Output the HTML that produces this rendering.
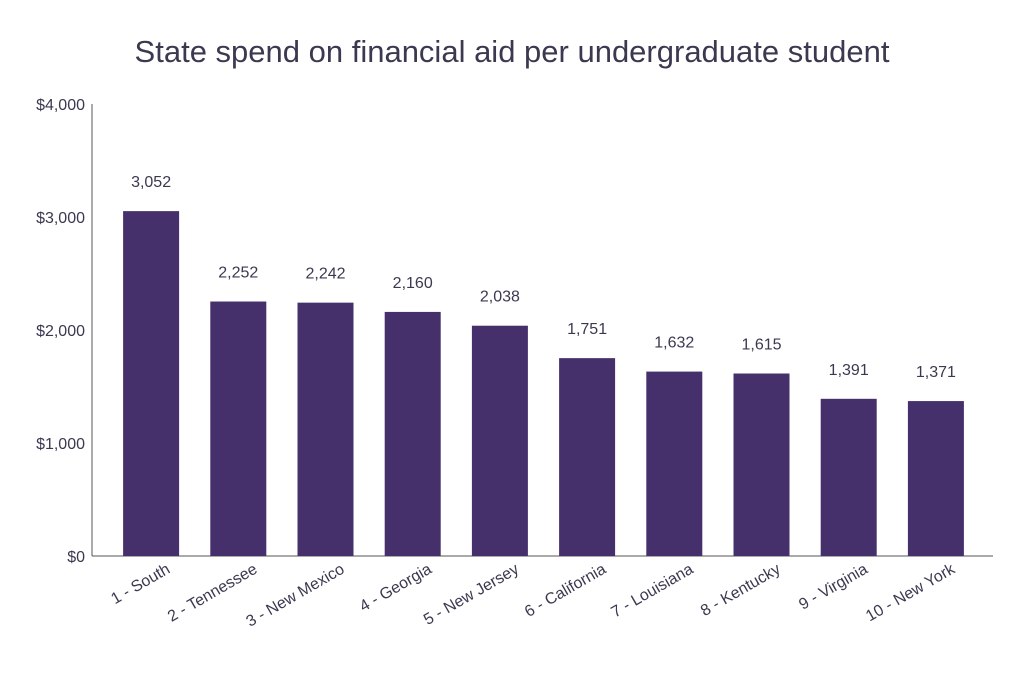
<!DOCTYPE html>
<html><head><meta charset="utf-8"><style>
body{margin:0;background:#fff;}
svg{display:block;font-family:"Liberation Sans",sans-serif;}
</style></head><body>
<svg id="chart" width="1024" height="683" viewBox="0 0 1024 683">
<text x="512" y="62" text-anchor="middle" font-size="31" fill="#3b3950">State spend on financial aid per undergraduate student</text>
<g id="axes"></g><g id="bars"></g>
</svg>
<script>
const categories=["1 - South","2 - Tennessee","3 - New Mexico","4 - Georgia","5 - New Jersey","6 - California","7 - Louisiana","8 - Kentucky","9 - Virginia","10 - New York"];
const values=[3052,2252,2242,2160,2038,1751,1632,1615,1391,1371];
const valueLabels=["3,052","2,252","2,242","2,160","2,038","1,751","1,632","1,615","1,391","1,371"];
const tickValues=[0,1000,2000,3000,4000];
const tickLabels=["$0","$1,000","$2,000","$3,000","$4,000"];
const NS="http://www.w3.org/2000/svg";
const y0=556,yTop=104,yMax=4000;
const y=v=>y0-(v/yMax)*(y0-yTop);
const band=87.2,x0=107.5,bw=56;
const xc=i=>x0+band*(i+0.5);
function mk(t,a,p){const e=document.createElementNS(NS,t);for(const k in a)e.setAttribute(k,a[k]);p.appendChild(e);return e;}
const ax=document.getElementById('axes'),bg=document.getElementById('bars');
let l=mk('line',{x1:92,y1:y0,x2:993,y2:y0,stroke:'#555',"stroke-width":1},ax);


l=mk('line',{x1:92,y1:yTop,x2:92,y2:y0,stroke:'#555',"stroke-width":1},ax);


tickValues.forEach((v,i)=>{
 const t=mk('text',{x:85,y:y(v)+6,"text-anchor":"end","font-size":16,fill:"#3b3950"},ax);
 t.textContent=tickLabels[i];
 
 
});
values.forEach((v,i)=>{
 const r=mk('rect',{x:xc(i)-bw/2,y:y(v),width:bw,height:y0-y(v),fill:"#45306b"},bg);
 
 
 const t=mk('text',{x:xc(i),y:y(v)-24,"text-anchor":"middle","font-size":16,fill:"#3b3950"},bg);
 t.textContent=valueLabels[i];
 
 
 const c=mk('text',{x:xc(i)+20,y:572,"text-anchor":"end","font-size":16,fill:"#3b3950",transform:`rotate(-30 ${xc(i)+20} 572)`},bg);
 c.textContent=categories[i];
 
 
});
</script>
</body></html>
